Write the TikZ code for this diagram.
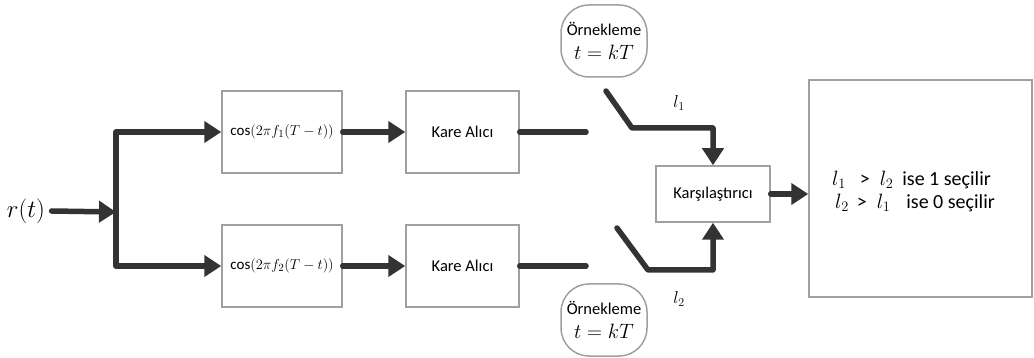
\documentclass[tikz,border=0pt]{standalone}
\usepackage{fontspec}
\setmainfont{Carlito}
\usetikzlibrary{arrows.meta}
\definecolor{wire}{HTML}{333333}
\definecolor{frame}{HTML}{A0A0A0}
\tikzset{
  blk/.style={draw=frame, line width=1.5pt, fill=white, inner sep=0pt, font=\fontsize{16.5}{19}\selectfont},
  sampler/.style={draw=frame, line width=1.5pt, rounded corners=28pt, minimum width=86pt, minimum height=72pt, inner sep=0pt, align=center},
  wireline/.style={draw=wire, line width=5.5pt, line cap=round, line join=round},
  flow/.style={wireline, -{Triangle[length=17pt,width=21pt]}},
  lab/.style={font=\fontsize{17}{19}\selectfont},
  rule/.style={anchor=west, inner sep=0pt, font=\fontsize{20}{22}\selectfont},
}
\begin{document}
\begin{tikzpicture}[x=1pt,y=-1pt]
\useasboundingbox (0,0) rectangle (1034,358);

% input signal
\node (rt) at (26,211) {\fontsize{26}{28}\selectfont $r(t)$};
\coordinate (split) at (116,212);

% correlator branches
\node[blk, minimum width=120pt, minimum height=82pt] (c1) at (282,132) {\fontsize{15}{17}\selectfont $\cos(2\pi f_1(T-t))$};
\node[blk, minimum width=120pt, minimum height=82pt] (c2) at (282,266) {\fontsize{15}{17}\selectfont $\cos(2\pi f_2(T-t))$};
\node[blk, minimum width=113pt, minimum height=82pt] (k1) at (462.5,132) {Kare Alıcı};
\node[blk, minimum width=113pt, minimum height=82pt] (k2) at (462.5,266) {Kare Alıcı};

% comparator and decision
\node[blk, minimum width=114pt, minimum height=56pt] (cmp) at (713,194) {Karşılaştırıcı};
\node[blk, minimum width=223pt, minimum height=217pt] (dec) at (920.5,188.5) {};
\node[rule] (d1) at (832,180) {$l_1$\hspace{14pt}>\hspace{10pt}$l_2$\hspace{9pt}ise 1 seçilir};
\node[rule] (d2) at (835,203) {$l_2$\hspace{8pt}>\hspace{10pt}$l_1$\hspace{16pt}ise 0 seçilir};

% sampling switches
\node[sampler] (s1) at (604,41) {\fontsize{16.5}{18}\selectfont Örnekleme\\[9pt]\fontsize{21}{23}\selectfont $t = kT$};
\node[sampler] (s2) at (604,320) {\fontsize{16.5}{18}\selectfont Örnekleme\\[9pt]\fontsize{21}{23}\selectfont $t = kT$};
\node[lab] (l1) at (679,103) {$l_1$};
\node[lab] (l2) at (679,299) {$l_2$};

\coordinate (e1) at (586,132);
\coordinate (e2) at (586,266);
\coordinate (a1) at (606,91);
\coordinate (b1) at (632,128);
\coordinate (a2) at (617,228);
\coordinate (b2) at (648,270);

% connectors
\draw[flow] (rt.east) ++(3pt,0) -- (split);
\draw[flow] (split) |- (c1.west);
\draw[flow] (split) |- (c2.west);
\draw[flow] (c1.east) -- (k1.west);
\draw[flow] (c2.east) -- (k2.west);
\draw[wireline] (k1.east) -- (e1);
\draw[wireline] (k2.east) -- (e2);
\draw[flow] (a1) -- (b1) -| (cmp.north);
\draw[flow] (a2) -- (b2) -| (cmp.south);
\draw[flow] (cmp.east) -- (cmp.east -| dec.west);
\end{tikzpicture}
\end{document}
